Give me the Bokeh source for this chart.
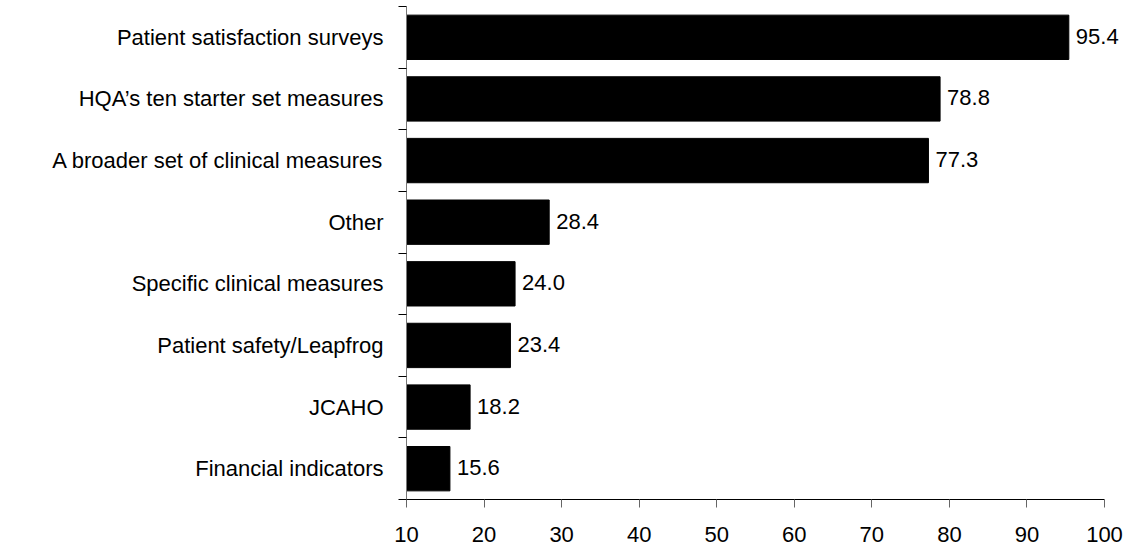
from bokeh.plotting import figure
from bokeh.models import Range1d, FixedTicker, ColumnDataSource
from bokeh.core.properties import value
from bokeh.embed import file_html
from bokeh.resources import INLINE

categories = [
    "Patient satisfaction surveys",
    "HQA\u2019s ten starter set measures",
    "A broader set of clinical measures",
    "Other",
    "Specific clinical measures",
    "Patient safety/Leapfrog",
    "JCAHO",
    "Financial indicators",
]
values = [95.4, 78.8, 77.3, 28.4, 24.0, 23.4, 18.2, 15.6]
x_ticks = [10, 20, 30, 40, 50, 60, 70, 80, 90, 100]

n = len(categories)
centers = [i + 0.5 for i in range(n)]
src = ColumnDataSource(dict(
    y=centers, v=values, lab=["%.1f" % v for v in values], cat=categories,
))

FONT = "Liberation Sans"
FS = "22px"

# frame spans 406..1130 px; axis 10..100 occupies 406..1104 px
px_per_unit = (1104 - 406) / 90.0
x_end = 100 + (1130 - 1104) / px_per_unit

p = figure(width=1130, height=550, output_backend="svg", toolbar_location=None,
           x_range=Range1d(10, x_end), y_range=Range1d(n, 0),
           min_border_top=6, min_border_right=0, min_border_bottom=51,
           min_border_left=406)
p.outline_line_color = None
p.grid.visible = False
p.background_fill_color = "white"

p.hbar(y="y", left=10, right="v", height=0.72, source=src,
       fill_color="black", line_color="black")
p.text(x="v", y="y", text="lab", source=src, x_offset=7, y_offset=-1,
       text_baseline="middle", text_align="left",
       text_font=value(FONT), text_font_size=FS, text_color="black")

xa = p.xaxis[0]
xa.bounds = (10, 100)
xa.ticker = FixedTicker(ticks=x_ticks, minor_ticks=[])
xa.major_tick_out = 8
xa.major_tick_in = 0
xa.axis_line_color = "black"
xa.major_tick_line_color = "#666666"
xa.major_label_text_font = FONT
xa.major_label_text_font_size = FS
xa.major_label_text_color = "black"
xa.major_label_standoff = 19

ya = p.yaxis[0]
ya.ticker = FixedTicker(ticks=centers, minor_ticks=list(range(n + 1)))
ya.major_label_overrides = {c: cat for c, cat in zip(centers, categories)}
ya.major_tick_out = 0
ya.major_tick_in = 0
ya.minor_tick_out = 8
ya.minor_tick_in = 0
ya.minor_tick_line_color = "black"
ya.axis_line_color = "#777777"
ya.major_label_text_font = FONT
ya.major_label_text_font_size = FS
ya.major_label_text_color = "black"
ya.major_label_standoff = 15

open("out.html", "w").write(file_html(p, INLINE))
